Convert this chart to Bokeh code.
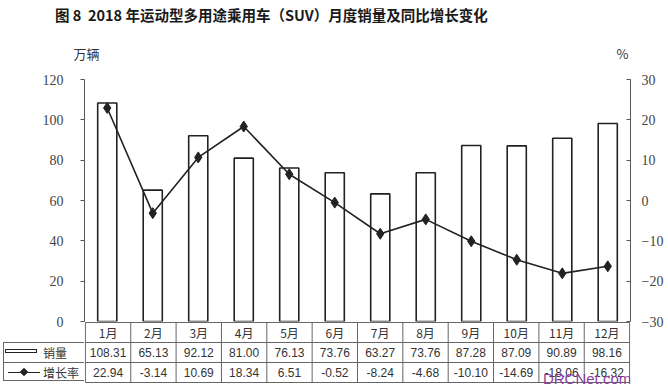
from bokeh.plotting import figure
from bokeh.models import (Range1d, LinearAxis, FixedTicker, Label, CustomJSTickFormatter,
                          ColumnDataSource, Div)
from bokeh.layouts import column
from bokeh.embed import file_html
from bokeh.resources import INLINE
from bokeh.core.properties import value

# ---------------- data ----------------
months = ["1月", "2月", "3月", "4月", "5月", "6月", "7月", "8月", "9月", "10月", "11月", "12月"]
sales = [108.31, 65.13, 92.12, 81.00, 76.13, 73.76, 63.27, 73.76, 87.28, 87.09, 90.89, 98.16]
growth = [22.94, -3.14, 10.69, 18.34, 6.51, -0.52, -8.24, -4.68, -10.10, -14.69, -18.06, -16.32]
left_ticks = [0, 20, 40, 60, 80, 100, 120]
right_ticks = [-30, -20, -10, 0, 10, 20, 30]
title_text = "图 8  2018 年运动型多用途乘用车（SUV）月度销量及同比增长变化"
left_unit = "万辆"
right_unit = "%"
row_names = ["销量", "增长率"]
watermark = "DRCNet.com.cn"

sales_labels = ["%.2f" % v for v in sales]
growth_labels = ["%.2f" % v for v in growth]

# ---------------- layout constants (canvas px) ----------------
W = 668
FL, FR = 84, 630        # frame left / right
TITLE_H = 30
TOP_BORDER = 49
FRAME_H = 242
OVER = 10               # overlap of table over chart bottom border
TAB_H = 65
ROW_PX = 20
N = len(months)
U = (FR - FL) / N       # px per category

TXT = "#333333"
AX = "#555555"
INK = "#222222"
GRID = "#666666"

title = Div(text='<div style="margin-left:55px; padding-top:5px; white-space:pre; '
                 'font-family:\'Noto Sans CJK SC\'; font-weight:bold; font-size:14.5px; '
                 'line-height:20px; color:#1a1a1a;">' + title_text + '</div>',
            width=W, height=TITLE_H, margin=(0, 0, 0, 0))

centers = [i + 0.5 for i in range(N)]
src = ColumnDataSource(dict(x=centers, m=months, s=sales, g=growth))

p = figure(width=W, height=TOP_BORDER + FRAME_H + OVER, x_range=Range1d(0, N), y_range=Range1d(0, 120),
           output_backend="svg", toolbar_location=None, x_axis_location=None,
           min_border_left=FL, min_border_right=W - FR, min_border_top=TOP_BORDER,
           min_border_bottom=OVER, margin=(0, 0, 0, 0))
p.outline_line_color = None
p.xgrid.visible = False
p.ygrid.visible = False
p.background_fill_color = "white"
p.border_fill_color = "white"

ya = p.yaxis[0]
ya.ticker = FixedTicker(ticks=left_ticks)
ya.minor_tick_line_color = None
ya.major_tick_out = 4
ya.major_tick_in = 0
ya.axis_line_color = AX
ya.major_tick_line_color = AX
ya.major_label_text_font = "Liberation Serif"
ya.major_label_text_font_size = "14px"
ya.major_label_text_color = "#444444"
ya.major_label_standoff = 17

p.extra_y_ranges = {"pct": Range1d(-30, 30)}
ra = LinearAxis(y_range_name="pct", ticker=FixedTicker(ticks=right_ticks),
                formatter=CustomJSTickFormatter(code="return tick < 0 ? '−' + Math.abs(tick) : String(tick);"))
ra.minor_tick_line_color = None
ra.major_tick_in = 4
ra.major_tick_out = 0
ra.axis_line_color = AX
ra.major_tick_line_color = AX
ra.major_label_text_font = "Liberation Serif"
ra.major_label_text_font_size = "14px"
ra.major_label_text_color = "#444444"
ra.major_label_standoff = 11
p.add_layout(ra, "right")

# unit labels above the frame, drawn as tick labels of a hidden top axis
unit_pos = [(86 - FL) / U, (622 - FL) / U]
ua = LinearAxis(ticker=FixedTicker(ticks=unit_pos),
                formatter=CustomJSTickFormatter(
                    args=dict(a=left_unit, b=right_unit),
                    code="return tick < 6 ? a : b;"))
ua.axis_line_color = None
ua.major_tick_line_color = None
ua.minor_tick_line_color = None
ua.major_tick_out = 0
ua.major_tick_in = 0
ua.major_label_standoff = 17
ua.major_label_text_font = "Noto Sans CJK SC"
ua.major_label_text_font_size = "13px"
ua.major_label_text_color = TXT
p.add_layout(ua, "above")

p.vbar(x="x", top="s", width=0.42, source=src, fill_color="white", line_color=INK, line_width=1.6)
p.line(x="x", y="g", y_range_name="pct", source=src, line_color=INK, line_width=1.6)
p.scatter(x="x", y="g", y_range_name="pct", source=src, marker="diamond", size=11,
          fill_color=INK, line_color=INK)

# ---------------- table (frame aligned with the chart frame) ----------------
ytop = 3 + 1.0 / ROW_PX
t = figure(width=W, height=TAB_H, x_range=Range1d(-0.02, N + 0.02),
           y_range=Range1d(ytop - TAB_H / ROW_PX, ytop),
           x_axis_type=None, y_axis_type=None, output_backend="svg", toolbar_location=None,
           min_border_left=FL, min_border_right=W - FR, min_border_top=0, min_border_bottom=0,
           margin=(-OVER, 0, 0, 0))
t.outline_line_color = None
t.xgrid.visible = False
t.ygrid.visible = False
t.background_fill_alpha = 0
t.border_fill_alpha = 0

hy = [3, 2, 1, 0]
t.segment(x0=[0] * 4, y0=hy, x1=[N] * 4, y1=hy, line_color=GRID, line_width=1)
vx = list(range(N + 1))
t.segment(x0=vx, y0=[0] * (N + 1), x1=vx, y1=[3] * (N + 1), line_color=GRID, line_width=1)

for yrow, labels, fnt in [(2.5, months, "Noto Sans CJK SC"), (1.5, sales_labels, "Liberation Sans"),
                          (0.5, growth_labels, "Liberation Sans")]:
    t.text(x=centers, y=[yrow] * N, text=labels, text_align="center", text_baseline="middle",
           text_font=value(fnt), text_font_size="12px", text_color=TXT)

t.add_layout(Label(x=(543 - FL) / U, y=0.2, text=watermark, text_align="left", text_baseline="middle",
                   text_font="Liberation Sans", text_font_size="15px", text_color="#8b3fa0"))

# ---------------- legend column of the table (left of the frame) ----------------
LEG_H = 41
leg_html = (
    '<div style="position:relative; width:84px; height:41px; font-family:\'Noto Sans CJK SC\'; '
    'font-size:12px; color:#333333;">'
    '<div style="position:absolute; left:3px; top:0px; width:81px; height:39px; '
    'border-left:1px solid #666666; border-top:1px solid #666666; border-bottom:1px solid #666666;"></div>'
    '<div style="position:absolute; left:3px; top:20px; width:81px; height:0px; '
    'border-top:1px solid #666666;"></div>'
    '<div style="position:absolute; left:5px; top:7px; width:32px; height:4px; '
    'border:1.5px solid #222222; background:white;"></div>'
    '<div style="position:absolute; left:43px; top:1px; height:20px; line-height:20px;">'
    + row_names[0] + '</div>'
    '<div style="position:absolute; left:8px; top:30px; width:32px; height:0px; '
    'border-top:1.5px solid #222222;"></div>'
    '<div style="position:absolute; left:21px; top:27px; width:6px; height:6px; '
    'background:#222222; transform:rotate(45deg);"></div>'
    '<div style="position:absolute; left:43px; top:21px; height:20px; line-height:20px;">'
    + row_names[1] + '</div>'
    '</div>')
legend_col = Div(text=leg_html, width=FL, height=LEG_H,
                 margin=(-(TAB_H - 1 - ROW_PX * 0) + (ROW_PX + 1) - 1 - 0, 0, 0, 0))
# place the legend box so that its top sits on the table line between the month row and the sales row
legend_col.margin = (-(TAB_H - (1 + ROW_PX)), 0, 0, 0)

layout = column(title, p, t, legend_col, spacing=0)
open("out.html", "w").write(file_html(layout, INLINE))
